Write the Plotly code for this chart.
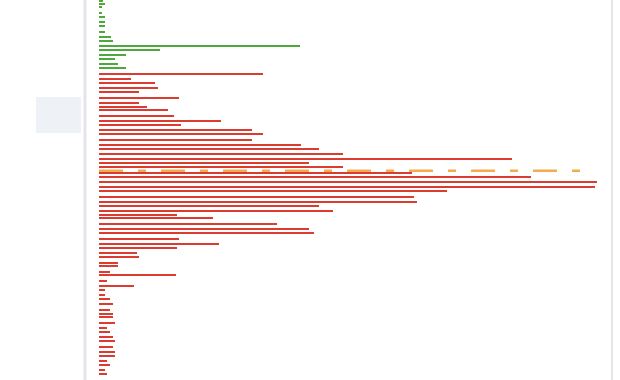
import plotly.graph_objects as go

# Price levels (top part = bids in green, lower part = asks in red)
green_price = [199.6, 198.0, 196.35, 193.35, 191.65, 188.85, 187.15, 184.25, 181.4, 179.65,
               176.85, 175.0, 172.35, 170.5, 167.85, 166.0]
green_vol = [0.8, 1.2, 0.6, 0.6, 1.2, 1.2, 1.2, 1.2, 2.4, 2.8,
             40.2, 12.2, 5.4, 3.2, 3.8, 5.4]

red_price = [163.25, 160.35, 158.6, 155.85, 154.0, 151.15, 148.35, 146.65, 144.9, 142.1,
             139.35, 137.5, 135.1, 133.0, 130.15, 127.5, 125.5, 122.85, 120.35, 118.35,
             116.35, 113.65, 111.65, 109.0, 106.5, 104.5, 101.75, 99.0, 97.1, 94.5,
             92.75, 90.85, 88.0, 85.35, 83.5, 80.75, 78.0, 76.0, 73.5, 71.6,
             68.75, 67.0, 64.25, 62.5, 59.75, 57.0, 55.15, 52.4, 50.6, 47.85,
             45.0, 43.25, 41.5, 38.6, 35.9, 34.1, 31.35, 29.6, 26.75, 24.0,
             22.15, 19.5, 17.65, 14.9, 13.1]
red_vol = [32.8, 6.4, 11.2, 11.8, 8.0, 16.0, 8.0, 9.6, 13.8, 15.0,
           24.4, 16.4, 30.6, 32.8, 30.6, 40.4, 44.0, 48.8, 82.6, 42.0,
           48.8, 62.6, 86.4, 99.6, 99.2, 69.6, 63.0, 63.6, 44.0, 46.8,
           15.6, 22.8, 35.6, 42.0, 43.0, 16.0, 24.0, 15.6, 7.6, 8.0,
           3.8, 3.8, 2.2, 15.4, 1.6, 7.0, 1.2, 1.2, 2.2, 2.8,
           2.2, 2.8, 2.8, 3.2, 1.6, 2.2, 2.8, 3.2, 2.8, 3.2,
           3.2, 1.6, 2.2, 1.2, 1.6]

ref_price = 114.65
ref_vol = [0, 98.6]

fig = go.Figure()
fig.add_trace(go.Bar(y=green_price, x=green_vol, orientation="h", width=1.0,
                     marker=dict(color="#4ea83c", line=dict(width=0)), showlegend=False))
fig.add_trace(go.Bar(y=red_price, x=red_vol, orientation="h", width=1.0,
                     marker=dict(color="#dc3b2f", line=dict(width=0)), showlegend=False))
fig.add_trace(go.Scatter(x=ref_vol, y=[ref_price, ref_price], mode="lines",
                         line=dict(color="rgba(245,158,45,0.85)", width=2.5,
                                   dash="24px,15px,8px,15px"),
                         showlegend=False, hoverinfo="skip"))

fig.update_layout(
    width=620, height=380,
    margin=dict(l=0, r=0, t=0, b=0),
    paper_bgcolor="white", plot_bgcolor="white",
    bargap=0,
    xaxis=dict(domain=[99/620, 1], range=[0, 104.2], visible=False, fixedrange=True),
    yaxis=dict(range=[10, 200], visible=False, fixedrange=True),
    shapes=[
        dict(type="rect", xref="paper", yref="paper", x0=36/620, x1=81/620,
             y0=1-133/380, y1=1-97/380, fillcolor="#eef2f7", line=dict(width=0), layer="below"),
        dict(type="line", xref="paper", yref="paper", x0=85/620, x1=85/620, y0=0, y1=1,
             line=dict(color="#e2e5ea", width=3), layer="below"),
        dict(type="line", xref="paper", yref="paper", x0=612/620, x1=612/620, y0=0, y1=1,
             line=dict(color="#e2e5ea", width=2), layer="below"),
    ],
)

fig.write_html("out.html")
